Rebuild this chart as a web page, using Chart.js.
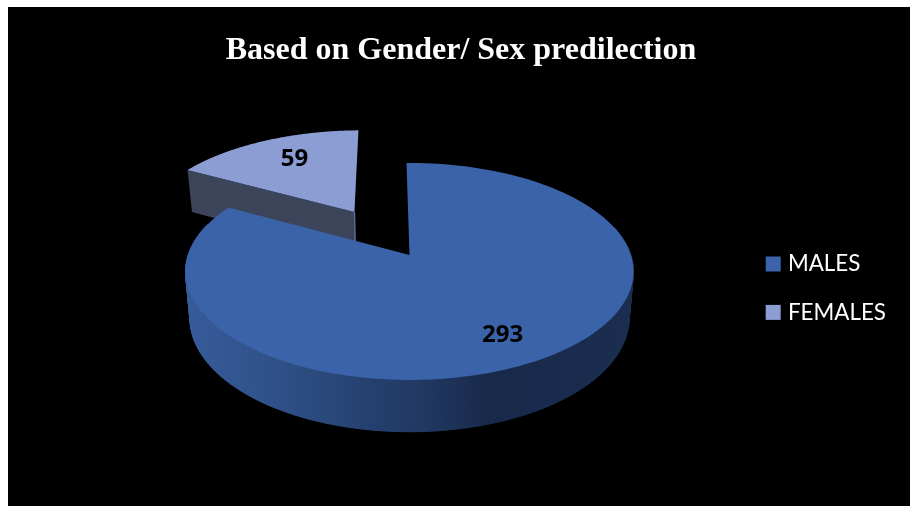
<!DOCTYPE html>
<html>
<head>
<meta charset="utf-8">
<title>Based on Gender/ Sex predilection</title>
<script src="https://cdn.jsdelivr.net/npm/chart.js@4"></script>
<style>
  html, body { margin: 0; padding: 0; background: #fff; overflow: hidden; }
  #wrap { position: absolute; left: 8px; top: 7px; width: 902px; height: 499px; background: #000; }
</style>
</head>
<body>
<div id="wrap"><canvas id="pie" width="902" height="499"></canvas></div>
<script>
const categories = ["MALES", "FEMALES"];
const patients = [293, 59];

const TOP_COLORS = ["#3A63A9", "#8C9DD3"];

// tilted disc: screen position of a point on the unit disc, nearer edge is bigger
const tilt = { x: 401.5, y: 248, rx: 221.4, ry: 106, persp: 0.152, depth: 46, shrink: 0.98 };
const explode = [[0, 0], [-0.265, -0.432]];
const labelRadius = [0.77, 0.72];
const labelNudge = [[-0.02, 0.015], [0.035, 0.005]];

const project = (u, t, bottom) => {
  const w = 1 - tilt.persp * t;
  const s = bottom ? tilt.shrink : 1;
  return {
    x: tilt.x + (s * tilt.rx * u) / w,
    y: tilt.y + (s * tilt.ry * t + (bottom ? tilt.depth : 0)) / w
  };
};

const arcPoints = (el, i, bottom) => {
  const a0 = el.startAngle + Math.PI / 2;
  const a1 = el.endAngle + Math.PI / 2;
  const [eu, et] = explode[i];
  const n = 160;
  const pts = [];
  for (let k = 0; k <= n; k += 1) {
    const a = a0 + ((a1 - a0) * k) / n;
    const p = project(Math.sin(a) + eu, -Math.cos(a) + et, bottom);
    p.front = Math.cos(a) < 0.3;
    pts.push(p);
  }
  return pts;
};

const fillPoly = (ctx, pts, fill, seam) => {
  ctx.beginPath();
  pts.forEach((p, k) => (k ? ctx.lineTo(p.x, p.y) : ctx.moveTo(p.x, p.y)));
  ctx.closePath();
  ctx.fillStyle = fill;
  ctx.fill();
  if (seam) {
    ctx.strokeStyle = fill;
    ctx.lineWidth = 1;
    ctx.stroke();
  }
};

const tiltedPie = {
  id: "tiltedPie",
  beforeDatasetsDraw(chart) {
    const ctx = chart.ctx;
    const arcs = chart.getDatasetMeta(0).data;

    const sideGrad = ctx.createLinearGradient(tilt.x - tilt.rx, 0, tilt.x + tilt.rx, 0);
    sideGrad.addColorStop(0, "#375C9A");
    sideGrad.addColorStop(0.2, "#2F5188");
    sideGrad.addColorStop(0.4, "#264170");
    sideGrad.addColorStop(0.55, "#203760");
    sideGrad.addColorStop(0.68, "#18294A");
    sideGrad.addColorStop(1, "#1B2E50");

    // females first, the males slice sits in front of it
    [1, 0].forEach((i) => {
      const el = arcs[i];
      const top = arcPoints(el, i, false);
      const low = arcPoints(el, i, true);
      const [eu, et] = explode[i];
      const apexTop = project(eu, et, false);
      const apexLow = project(eu, et, true);

      if (i === 1) {
        // cut faces of the pulled out slice
        fillPoly(ctx, [top[0], low[0], apexLow, apexTop], "#3B4459");
        ctx.strokeStyle = "#5B6A90";
        ctx.lineWidth = 1.5;
        ctx.beginPath();
        ctx.moveTo(apexTop.x, apexTop.y);
        ctx.lineTo(apexLow.x, apexLow.y);
        ctx.stroke();
      } else {
        for (let k = 0; k < top.length - 1; k += 1) {
          if (top[k].front) {
            fillPoly(ctx, [top[k], top[k + 1], low[k + 1], low[k]], sideGrad, true);
          }
        }
      }
      fillPoly(ctx, [apexTop].concat(top), TOP_COLORS[i]);
    });

    ctx.fillStyle = "#000";
    ctx.font = "bold 24px 'Open Sans'";
    ctx.textAlign = "center";
    ctx.textBaseline = "middle";
    arcs.forEach((el, i) => {
      const mid = (el.startAngle + el.endAngle) / 2 + Math.PI / 2;
      const r = labelRadius[i];
      const u = r * Math.sin(mid) + explode[i][0] + labelNudge[i][0];
      const t = -r * Math.cos(mid) + explode[i][1] + labelNudge[i][1];
      const p = project(u, t, false);
      ctx.fillText(String(patients[i]), p.x, p.y);
    });
    return false;
  },
  // legend squares sit closer to their text than Chart.js puts them
  afterDraw(chart) {
    const boxes = chart.legend.legendHitBoxes;
    boxes.forEach((b, i) => {
      chart.ctx.fillStyle = TOP_COLORS[i];
      chart.ctx.fillRect(b.left + 4, b.top + (b.height - 15) / 2, 15, 15);
    });
  }
};

new Chart(document.getElementById("pie"), {
  type: "pie",
  plugins: [tiltedPie],
  data: {
    labels: categories,
    datasets: [{ data: patients, backgroundColor: TOP_COLORS, borderWidth: 0 }]
  },
  options: {
    responsive: false,
    animation: false,
    events: [],
    rotation: -0.9,
    layout: { padding: { left: 18, right: 14, bottom: 0 } },
    plugins: {
      tooltip: { enabled: false },
      title: {
        display: true,
        text: "Based on Gender/ Sex predilection",
        color: "#fff",
        font: { family: "Liberation Serif", size: 32, weight: "bold" },
        padding: { top: 25, bottom: 0 }
      },
      legend: {
        position: "right",
        fullSize: false,
        labels: {
          color: "#fff",
          boxWidth: 15,
          boxHeight: 15,
          padding: 26,
          font: { family: "Lato", size: 22.4 },
          generateLabels: (chart) => categories.map((text, index) => ({
            text, index, fontColor: "#fff", fillStyle: "rgba(0,0,0,0)", strokeStyle: "rgba(0,0,0,0)", lineWidth: 0
          }))
        }
      }
    }
  }
});
</script>
</body>
</html>
